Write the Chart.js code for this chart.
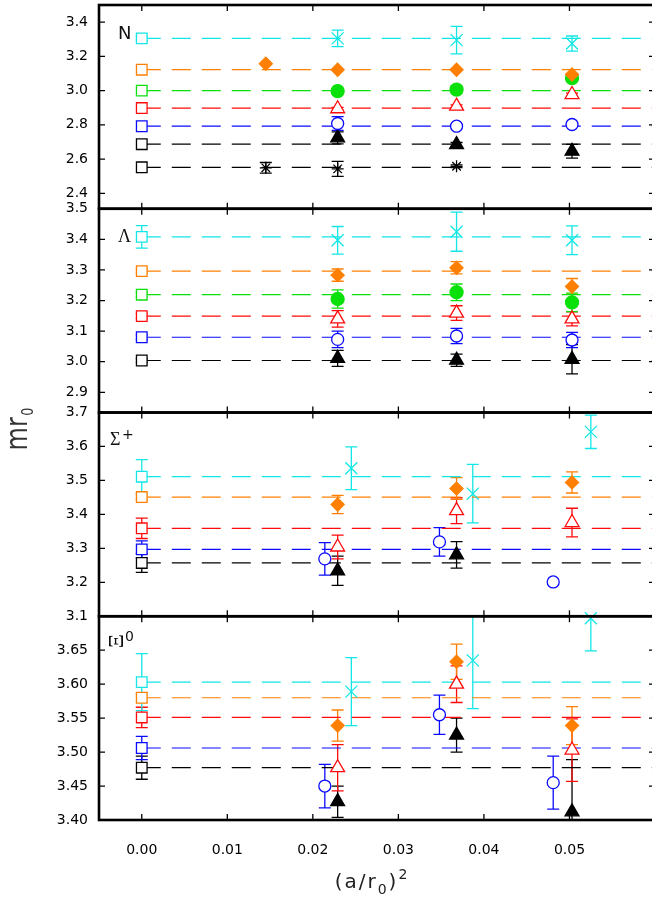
<!DOCTYPE html>
<html>
<head>
<meta charset="utf-8">
<script src="https://cdn.jsdelivr.net/npm/chart.js@4.4.1/dist/chart.umd.min.js"></script>
<style>
  html, body { margin: 0; padding: 0; background: #fff; overflow: hidden; }
  #wrap { width: 656px; height: 898px; }
</style>
</head>
<body>
<div id="wrap"><canvas id="chart" width="656" height="898"></canvas></div>
<script>
// (a/r0)^2 of the three lattices; blue and cyan points are shifted a bit in the Sigma/Xi panels
const xMain = [0.0229, 0.0368, 0.0503];
const xBlue = [0.0214, 0.0348, 0.0481];
const xCyan = [0.0245, 0.0387, 0.0525];
const xTicks = [0, 0.01, 0.02, 0.03, 0.04, 0.05];

// continuum values (squares at 0) in order black, blue, red, green, orange, cyan
// ---- N ----
const nCont     = [2.687, 2.792, 2.898, 3.000, 3.122, 3.305];
const nContErr  = [0, 0, 0, 0, 0, 0.012];
const nStarCont = [2.552];
const nTri   = [2.724, 2.685, 2.646], nTriErr   = [0.035, 0.012, 0.04];
const nCirc  = [2.808, 2.792, 2.802], nCircErr  = [0.04, 0.008, 0.008];
const nOTri  = [2.894, 2.909, 2.977], nOTriErr  = [0.008, 0.008, 0.008];
const nGreen = [2.997, 3.006, 3.073], nGreenErr = [0.01, 0.02, 0.01];
const nCross = [3.305, 3.295, 3.275], nCrossErr = [0.048, 0.08, 0.044];
const nDiamX = [0.0145, 0.0229, 0.0368, 0.0503];
const nDiam  = [3.157, 3.122, 3.122, 3.094];
const nStarX = [0.0145, 0.0229, 0.0368];
const nStar  = [2.549, 2.543, 2.558], nStarErr = [0.031, 0.044, 0.008];
const nTicks = [2.4, 2.6, 2.8, 3.0, 3.2, 3.4];

// ---- Lambda ----
const lCont    = [3.004, 3.080, 3.149, 3.219, 3.296, 3.408];
const lContErr = [0.006, 0.008, 0.008, 0.008, 0.006, 0.037];
const lTri   = [3.011, 3.005, 3.008], lTriErr   = [0.026, 0.02, 0.048];
const lCirc  = [3.073, 3.084, 3.071], lCircErr  = [0.027, 0.025, 0.025];
const lOTri  = [3.140, 3.159, 3.140], lOTriErr  = [0.027, 0.024, 0.023];
const lGreen = [3.205, 3.227, 3.194], lGreenErr = [0.03, 0.027, 0.03];
const lDiam  = [3.283, 3.307, 3.246], lDiamErr  = [0.02, 0.02, 0.026];
const lCross = [3.397, 3.425, 3.397], lCrossErr = [0.045, 0.064, 0.047];
const lTicks = [2.9, 3.0, 3.1, 3.2, 3.3, 3.4, 3.5];

// ---- Sigma+ ----
const sCont    = [3.257, 3.297, 3.359, null, 3.451, 3.511];
const sContErr = [0.028, 0.025, 0.03, 0, 0.008, 0.05];
const sTriX  = [0.0229, 0.0368];
const sTri   = [3.234, 3.281], sTriErr = [0.043, 0.039];
const sCirc  = [3.269, 3.319, 3.201], sCircErr  = [0.048, 0.042, 0];
const sOTri  = [3.304, 3.411, 3.376], sOTriErr  = [0.035, 0.038, 0.042];
const sDiam  = [3.429, 3.476, 3.494], sDiamErr  = [0.027, 0.032, 0.031];
const sCross = [3.536, 3.461, 3.643], sCrossErr = [0.063, 0.086, 0.049];
const sTicks = [3.1, 3.2, 3.3, 3.4, 3.5, 3.6, 3.7];

// ---- Xi0 ----
const xiCont    = [3.477, 3.506, 3.551, null, 3.580, 3.603];
const xiContErr = [0.017, 0.017, 0.015, 0, 0.006, 0.042];
const xiTri   = [3.427, 3.525, 3.412], xiTriErr   = [0.023, 0.025, 0.077];
const xiCirc  = [3.450, 3.555, 3.455], xiCircErr  = [0.032, 0.029, 0.039];
const xiOTri  = [3.477, 3.600, 3.503], xiOTriErr  = [0.034, 0.027, 0.046];
const xiDiam  = [3.539, 3.633, 3.539], xiDiamErr  = [0.023, 0.026, 0.028];
const xiCross = [3.589, 3.635, 3.697], xiCrossErr = [0.05, 0.071, 0.048];
const xiTicks = [3.40, 3.45, 3.50, 3.55, 3.60, 3.65];

const BLACK = '#000000', BLUE = '#0a0aff', RED = '#ff0a0a', GREEN = '#0ae00a', ORANGE = '#ff8000', CYAN = '#12e6e6';
const contColors = [BLACK, BLUE, RED, GREEN, ORANGE, CYAN];
const XMIN = -0.005, XMAX = 0.06;

const styles = {
  tri:   { pointStyle: 'triangle', r: 8,   color: BLACK,  filled: true,  order: 6 },
  circ:  { pointStyle: 'circle',   r: 6,   color: BLUE,   filled: false, order: 5 },
  otri:  { pointStyle: 'triangle', r: 8,   color: RED,    filled: false, order: 4 },
  green: { pointStyle: 'circle',   r: 6.5, color: GREEN,  filled: true,  order: 3 },
  diam:  { pointStyle: 'rectRot',  r: 6.5, color: ORANGE, filled: true,  order: 2 },
  cross: { pointStyle: 'crossRot', r: 8.5, color: CYAN,   filled: false, order: 1 },
  star:  { pointStyle: 'star',     r: 6,   color: BLACK,  filled: false, order: 7 },
};

function pts(xs, ys, es) {
  return ys.map((y, i) => ({ x: xs[i], y: y, e: es ? es[i] : 0 }));
}

function markers(axis, kind, xs, ys, es) {
  const st = styles[kind];
  return {
    yAxisID: axis, data: pts(xs, ys, es), errorBars: true,
    pointStyle: st.pointStyle, pointRadius: st.r,
    borderColor: st.color, pointBorderColor: st.color,
    pointBackgroundColor: st.filled ? st.color : '#ffffff',
    pointBorderWidth: 1.3, showLine: false, clip: false, order: st.order
  };
}

function continuum(axis, vals, errs, colors) {
  const out = [];
  vals.forEach((v, i) => {
    if (v === null) return;
    const c = colors[i];
    out.push({
      yAxisID: axis, data: [{ x: 0, y: v }, { x: XMAX, y: v }], showLine: true, fill: false,
      borderColor: c, borderWidth: 1.2, borderDash: [19, 11], pointRadius: 0, order: 100
    });
    out.push({
      yAxisID: axis, data: [{ x: 0, y: v, e: errs[i] }], errorBars: true,
      pointStyle: 'rect', pointRadius: 7.5, borderColor: c, pointBorderColor: c,
      pointBackgroundColor: '#ffffff', pointBorderWidth: 1.3, clip: false, order: 8
    });
  });
  return out;
}

const datasets = [].concat(
  continuum('yN', nCont, nContErr, contColors),
  continuum('yN', nStarCont, [0], [BLACK]),
  markers('yN', 'tri', xMain, nTri, nTriErr),
  markers('yN', 'circ', xMain, nCirc, nCircErr),
  markers('yN', 'otri', xMain, nOTri, nOTriErr),
  markers('yN', 'green', xMain, nGreen, nGreenErr),
  markers('yN', 'diam', nDiamX, nDiam, null),
  markers('yN', 'cross', xMain, nCross, nCrossErr),
  markers('yN', 'star', nStarX, nStar, nStarErr),

  continuum('yL', lCont, lContErr, contColors),
  markers('yL', 'tri', xMain, lTri, lTriErr),
  markers('yL', 'circ', xMain, lCirc, lCircErr),
  markers('yL', 'otri', xMain, lOTri, lOTriErr),
  markers('yL', 'green', xMain, lGreen, lGreenErr),
  markers('yL', 'diam', xMain, lDiam, lDiamErr),
  markers('yL', 'cross', xMain, lCross, lCrossErr),

  continuum('yS', sCont, sContErr, contColors),
  markers('yS', 'tri', sTriX, sTri, sTriErr),
  markers('yS', 'circ', xBlue, sCirc, sCircErr),
  markers('yS', 'otri', xMain, sOTri, sOTriErr),
  markers('yS', 'diam', xMain, sDiam, sDiamErr),
  markers('yS', 'cross', xCyan, sCross, sCrossErr),

  continuum('yX', xiCont, xiContErr, contColors),
  markers('yX', 'tri', xMain, xiTri, xiTriErr),
  markers('yX', 'circ', xBlue, xiCirc, xiCircErr),
  markers('yX', 'otri', xMain, xiOTri, xiOTriErr),
  markers('yX', 'diam', xMain, xiDiam, xiDiamErr),
  markers('yX', 'cross', xCyan, xiCross, xiCrossErr)
);

const panelAxes = ['yN', 'yL', 'yS', 'yX'];
const tickFont = { family: 'DejaVu Sans', size: 14 };

function yScale(min, max, ticks, digits) {
  return {
    type: 'linear', position: 'left', stack: 'panels', stackWeight: 1,
    min: min, max: max,
    grid: { display: false, drawTicks: false }, border: { display: false },
    ticks: { autoSkip: false, padding: 11, color: '#000', font: tickFont,
             callback: v => Number(v).toFixed(digits) },
    afterBuildTicks: s => { s.ticks = ticks.map(v => ({ value: v })); },
    afterFit: s => { s.width = 99; s.paddingTop = 0; s.paddingBottom = 0; }
  };
}

// error bars under the markers, labels, ticks and frames on top
const panelDeco = {
  id: 'panelDeco',
  beforeDatasetsDraw(chart) {
    const ctx = chart.ctx, xs = chart.scales.x;
    chart.data.datasets.forEach(ds => {
      if (!ds.errorBars) return;
      const ys = chart.scales[ds.yAxisID];
      ctx.save();
      ctx.beginPath();
      ctx.rect(xs.left, ys.top, xs.right - xs.left, ys.bottom - ys.top);
      ctx.clip();
      ctx.strokeStyle = ds.borderColor;
      ctx.lineWidth = 1.3;
      ds.data.forEach(p => {
        if (!p.e) return;
        const px = xs.getPixelForValue(p.x);
        const y1 = ys.getPixelForValue(p.y + p.e), y2 = ys.getPixelForValue(p.y - p.e);
        ctx.beginPath();
        ctx.moveTo(px, y1); ctx.lineTo(px, y2);
        ctx.moveTo(px - 6, y1); ctx.lineTo(px + 6, y1);
        ctx.moveTo(px - 6, y2); ctx.lineTo(px + 6, y2);
        ctx.stroke();
      });
      ctx.restore();
    });
  },
  afterDraw(chart) {
    const ctx = chart.ctx, xs = chart.scales.x;
    const left = chart.chartArea.left, right = chart.chartArea.right;
    ctx.save();
    ctx.strokeStyle = '#000';
    panelAxes.forEach(id => {
      const ys = chart.scales[id];
      ctx.lineWidth = 1.3;
      ctx.beginPath();
      ys.ticks.forEach(t => {
        const y = ys.getPixelForValue(t.value);
        ctx.moveTo(left, y); ctx.lineTo(left + 6, y);
        ctx.moveTo(right - 6, y); ctx.lineTo(right, y);
      });
      xs.ticks.forEach(t => {
        const x = xs.getPixelForValue(t.value);
        ctx.moveTo(x, ys.top); ctx.lineTo(x, ys.top + 6);
        ctx.moveTo(x, ys.bottom); ctx.lineTo(x, ys.bottom - 6);
      });
      ctx.stroke();
      ctx.lineWidth = 2.6;
      ctx.strokeRect(left, ys.top, right - left, ys.bottom - ys.top);
    });

    // panel labels
    ctx.fillStyle = '#111';
    ctx.textAlign = 'left';
    ctx.textBaseline = 'alphabetic';
    const tN = chart.scales.yN.top, tL = chart.scales.yL.top, tS = chart.scales.yS.top, tX = chart.scales.yX.top;
    ctx.font = '18px "DejaVu Sans"';
    ctx.fillText('N', 118, tN + 34);
    ctx.font = '18px "Liberation Serif"';
    ctx.fillText('Λ', 118, tL + 33);
    ctx.fillText('Σ', 110, tS + 32.5);
    ctx.font = '14px "DejaVu Sans"';
    ctx.fillText('+', 122, tS + 26);
    ctx.save();
    ctx.translate(117, tX + 25);
    ctx.rotate(-Math.PI / 2);
    ctx.font = '22px "Liberation Serif"';
    ctx.textAlign = 'center';
    ctx.textBaseline = 'middle';
    ctx.fillText('Ξ', 0, 0);
    ctx.restore();
    ctx.font = '14px "DejaVu Sans"';
    ctx.fillText('0', 125, tX + 25);

    // y title: m r_0
    ctx.save();
    ctx.translate(27, 429);
    ctx.rotate(-Math.PI / 2);
    ctx.scale(0.8, 1);
    ctx.font = '30px "DejaVu Sans"';
    const w1 = ctx.measureText('mr').width;
    ctx.font = '16px "DejaVu Sans"';
    const w2 = ctx.measureText('0').width;
    const x0 = -(w1 + w2 + 2) / 2;
    ctx.font = '30px "DejaVu Sans"';
    ctx.fillStyle = '#333';
    ctx.fillText('mr', x0, 0);
    ctx.font = '16px "DejaVu Sans"';
    ctx.fillText('0', x0 + w1 + 2, 6);
    ctx.restore();

    // x title: (a/r_0)^2
    const parts = [['(', 20, 0], ['a', 20, 0], ['/', 20, 0], ['r', 20, 0], ['0', 14, 6], [')', 20, 0], ['2', 14, -9]];
    let total = 0;
    parts.forEach(p => { ctx.font = p[1] + 'px "DejaVu Sans"'; p.push(ctx.measureText(p[0]).width); total += p[3] + 2; });
    let cx = 372 - total / 2;
    ctx.fillStyle = '#222';
    parts.forEach(p => {
      ctx.font = p[1] + 'px "DejaVu Sans"';
      ctx.fillText(p[0], cx, 888 + p[2]);
      cx += p[3] + 2;
    });
    ctx.restore();
  }
};

new Chart(document.getElementById('chart'), {
  type: 'scatter',
  data: { datasets: datasets },
  options: {
    responsive: false,
    animation: false,
    events: [],
    layout: { autoPadding: false, padding: { top: 5, right: 1, left: 0, bottom: 0 } },
    plugins: { legend: { display: false }, tooltip: { enabled: false } },
    scales: {
      x: {
        type: 'linear', position: 'bottom', min: XMIN, max: XMAX,
        grid: { display: false, drawTicks: false }, border: { display: false },
        ticks: { autoSkip: false, padding: 22, color: '#000', font: tickFont,
                 callback: v => Number(v).toFixed(2) },
        afterBuildTicks: s => { s.ticks = xTicks.map(v => ({ value: v })); },
        afterFit: s => { s.height = 78; s.paddingLeft = 0; s.paddingRight = 0; }
      },
      // stacked bottom to top
      yX: yScale(3.40, 3.70, xiTicks, 2),
      yS: yScale(3.10, 3.70, sTicks, 1),
      yL: yScale(2.834, 3.50, lTicks, 1),
      yN: yScale(2.31, 3.50, nTicks, 1)
    }
  },
  plugins: [panelDeco]
});
</script>
</body>
</html>
